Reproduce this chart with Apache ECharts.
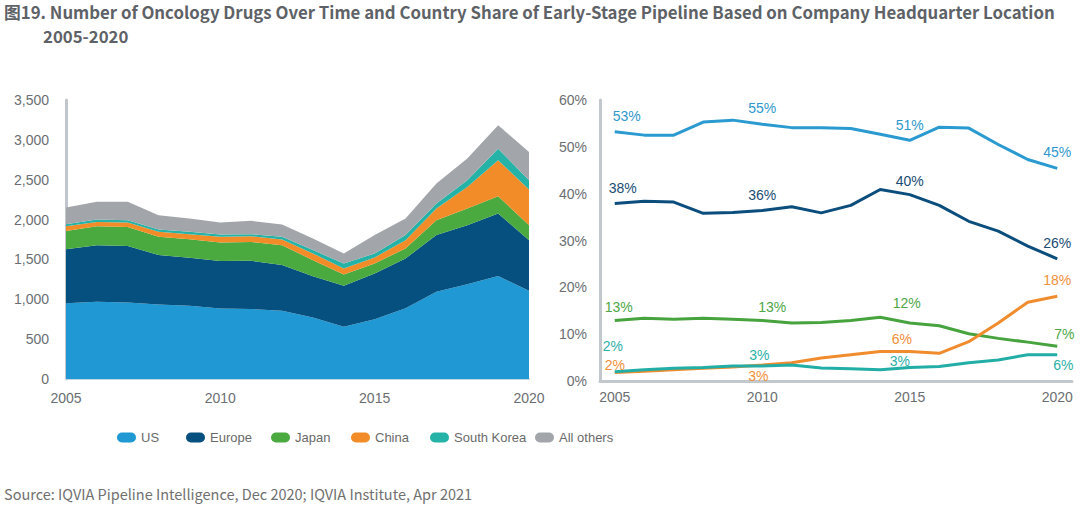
<!DOCTYPE html>
<html>
<head>
<meta charset="utf-8">
<script src="https://cdn.jsdelivr.net/npm/echarts@6/dist/echarts.min.js"></script>
<style>
html,body{margin:0;padding:0;background:#fff;}
#chart{width:1080px;height:506px;}
</style>
</head>
<body>
<div id="chart"></div>
<script>
// ---- data ----
const years = ['2005','2006','2007','2008','2009','2010','2011','2012','2013','2014','2015','2016','2017','2018','2019','2020'];
const seriesNames = ['US','Europe','Japan','China','South Korea','All others'];

// Number of oncology drugs (stacked)
const usDrugs     = [950, 970, 960, 935, 920, 885, 877, 856, 770, 655, 748, 886, 1094, 1190, 1291, 1107];
const europeDrugs = [679, 709, 710, 619, 600, 594, 606, 573, 520, 514, 576, 626, 711, 740, 785, 635];
const japanDrugs  = [229, 238, 238, 229, 234, 234, 237, 250, 201, 143, 126, 126, 187, 209, 217, 188];
const chinaDrugs  = [59, 54, 55, 63, 63, 70, 72, 71, 84, 75, 75, 104, 147, 271, 451, 447];
const koreaDrugs  = [25, 30, 29, 30, 29, 30, 25, 33, 42, 63, 50, 63, 63, 84, 146, 117];
const otherDrugs  = [210, 221, 230, 179, 168, 150, 167, 155, 146, 125, 230, 209, 250, 271, 293, 354];

// Country share of early-stage pipeline (%)
const usShare     = [53.2, 52.5, 52.5, 55.3, 55.7, 54.8, 54.1, 54.1, 53.9, 52.7, 51.4, 54.2, 54.0, 50.5, 47.3, 45.4];
const europeShare = [37.9, 38.4, 38.2, 35.8, 36.0, 36.4, 37.2, 35.9, 37.5, 40.9, 39.8, 37.5, 34.1, 32.0, 28.8, 26.1];
const japanShare  = [12.9, 13.4, 13.2, 13.4, 13.2, 12.9, 12.4, 12.5, 12.9, 13.6, 12.4, 11.8, 10.1, 9.1, 8.3, 7.4];
const chinaShare  = [1.8, 2.1, 2.4, 2.7, 3.0, 3.4, 3.9, 4.9, 5.6, 6.3, 6.3, 5.9, 8.4, 12.4, 16.8, 18.1];
const koreaShare  = [2.0, 2.4, 2.7, 2.9, 3.2, 3.2, 3.4, 2.8, 2.6, 2.4, 2.9, 3.1, 3.9, 4.5, 5.6, 5.6];

const titleLine1 = '图19. Number of Oncology Drugs Over Time and Country Share of Early-Stage Pipeline Based on Company Headquarter Location';
const titleLine2 = '2005-2020';
const sourceText = 'Source: IQVIA Pipeline Intelligence, Dec 2020; IQVIA Institute, Apr 2021';

// ---- styles ----
const areaColors = ['#1f98d4', '#06507f', '#4baa3f', '#f28c28', '#26b3a7', '#a2a6aa'];
const lineColors = ['#2a9ad0', '#0b4d7c', '#46a33d', '#f08b2e', '#22aea6'];
const labelColors = ['#2f98cc', '#1a4c74', '#4ea646', '#f0903a', '#2cb0a8'];
const axisFont = '"Liberation Sans", Arial, sans-serif';
const axisTextColor = '#6b6e72';

// label centre relative to its point (index -> [dx, dy] in px)
const labelPlacement = [
  {0:[12,-16], 5:[0,-16], 10:[0,-15], 15:[0,-16]},
  {0:[8,-16], 5:[0,-16], 10:[0,-14], 15:[0,-16]},
  {0:[4,-14], 5:[10,-14], 10:[-3,-20], 15:[7,-12]},
  {0:[0,-8], 5:[-4,11], 10:[-8,-12], 15:[0,-16]},
  {0:[-2,-26], 5:[-3,-11], 10:[-10,-6], 15:[6,10]}
];

const drugArrays = [usDrugs, europeDrugs, japanDrugs, chinaDrugs, koreaDrugs, otherDrugs];
const shareArrays = [usShare, europeShare, japanShare, chinaShare, koreaShare];

const areaSeries = drugArrays.map((arr, k) => ({
  name: seriesNames[k],
  type: 'line',
  xAxisIndex: 0, yAxisIndex: 0,
  stack: 'drugs',
  data: arr,
  symbol: 'none',
  smooth: false,
  lineStyle: { width: 0 },
  itemStyle: { color: areaColors[k] },
  areaStyle: { color: areaColors[k], opacity: 1 },
  emphasis: { disabled: true },
  silent: true
}));

const lineSeries = shareArrays.map((arr, k) => ({
  name: seriesNames[k],
  type: 'line',
  xAxisIndex: 1, yAxisIndex: 1,
  symbol: 'circle',
  symbolSize: 0,
  showSymbol: true,
  showAllSymbol: true,
  lineStyle: { width: 3, color: lineColors[k] },
  itemStyle: { color: lineColors[k] },
  emphasis: { disabled: true },
  silent: true,
  labelLayout: { hideOverlap: false },
  label: {
    show: false,
    color: labelColors[k],
    fontSize: 14,
    fontFamily: axisFont,
    align: 'center',
    verticalAlign: 'middle',
    formatter: p => Math.round(p.value) + '%'
  },
  data: arr.map((v, i) => {
    const pl = labelPlacement[k][i];
    if (!pl) return v;
    return { value: v, label: { show: true, position: pl, align: 'center', verticalAlign: 'middle' } };
  })
}));

const legendLefts = [117, 186, 271, 351, 430, 535];
const legends = seriesNames.map((n, k) => ({
  data: [n],
  left: legendLefts[k],
  top: 431,
  padding: 0,
  itemWidth: 19,
  itemHeight: 11,
  itemGap: 5,
  icon: 'path://M5,0 H14 A5,5 0 0 1 14,10 H5 A5,5 0 0 1 5,0 Z',
  selectedMode: false,
  textStyle: { color: '#6a6a6a', fontSize: 13, fontFamily: '"Liberation Sans Narrow", "Liberation Sans", Arial, sans-serif', padding: [0,0,0,0] }
}));

const chart = echarts.init(document.getElementById('chart'), null, { renderer: 'svg' });
chart.setOption({
  animation: false,
  backgroundColor: '#ffffff',
  title: [
    { text: titleLine1, left: 4, top: 2, padding: 0,
      textStyle: { fontFamily: '"Noto Sans CJK SC", "Noto Sans", sans-serif', fontWeight: 'bold', fontSize: 16.8, color: '#5e6267', lineHeight: 20 } },
    { text: titleLine2, left: 43, top: 26, padding: 0,
      textStyle: { fontFamily: '"Noto Sans CJK SC", "Noto Sans", sans-serif', fontWeight: 'bold', fontSize: 16.8, color: '#5e6267', lineHeight: 20 } },
    { text: sourceText, left: 4, top: 483, padding: 0,
      textStyle: { fontFamily: '"Noto Sans CJK SC", "Noto Sans", sans-serif', fontWeight: 'normal', fontSize: 14.5, color: '#707070', lineHeight: 20 } }
  ],
  legend: legends,
  grid: [
    { left: 66, right: 551, top: 100, bottom: 127, containLabel: false },
    { left: 600, right: 8, top: 100, bottom: 125, containLabel: false }
  ],
  xAxis: [
    { type: 'category', gridIndex: 0, data: years, boundaryGap: false,
      axisLine: { show: true, lineStyle: { color: '#c6d5e2', width: 2 } },
      axisTick: { show: false },
      splitLine: { show: false },
      axisLabel: { interval: 4, color: axisTextColor, fontSize: 14, fontFamily: axisFont, margin: 12 } },
    { type: 'category', gridIndex: 1, data: years, boundaryGap: true,
      axisLine: { show: true, lineStyle: { color: '#c3c8cc', width: 3 } },
      axisTick: { show: false },
      splitLine: { show: false },
      axisLabel: { interval: 4, color: axisTextColor, fontSize: 14, fontFamily: axisFont, margin: 9 } }
  ],
  yAxis: [
    { type: 'value', gridIndex: 0, min: 0, max: 3500, interval: 500,
      axisLine: { show: true, lineStyle: { color: '#c0c6cb', width: 3 } },
      axisTick: { show: false },
      splitLine: { show: false },
      axisLabel: { color: axisTextColor, fontSize: 14, fontFamily: axisFont, margin: 17,
        formatter: v => v.toLocaleString('en-US') } },
    { type: 'value', gridIndex: 1, min: 0, max: 60, interval: 10,
      axisLine: { show: true, lineStyle: { color: '#c3c8cc', width: 3 } },
      axisTick: { show: false },
      splitLine: { show: false },
      axisLabel: { color: axisTextColor, fontSize: 14, fontFamily: axisFont, margin: 13, formatter: '{value}%' } }
  ],
  series: areaSeries.concat(lineSeries)
});
</script>
</body>
</html>
